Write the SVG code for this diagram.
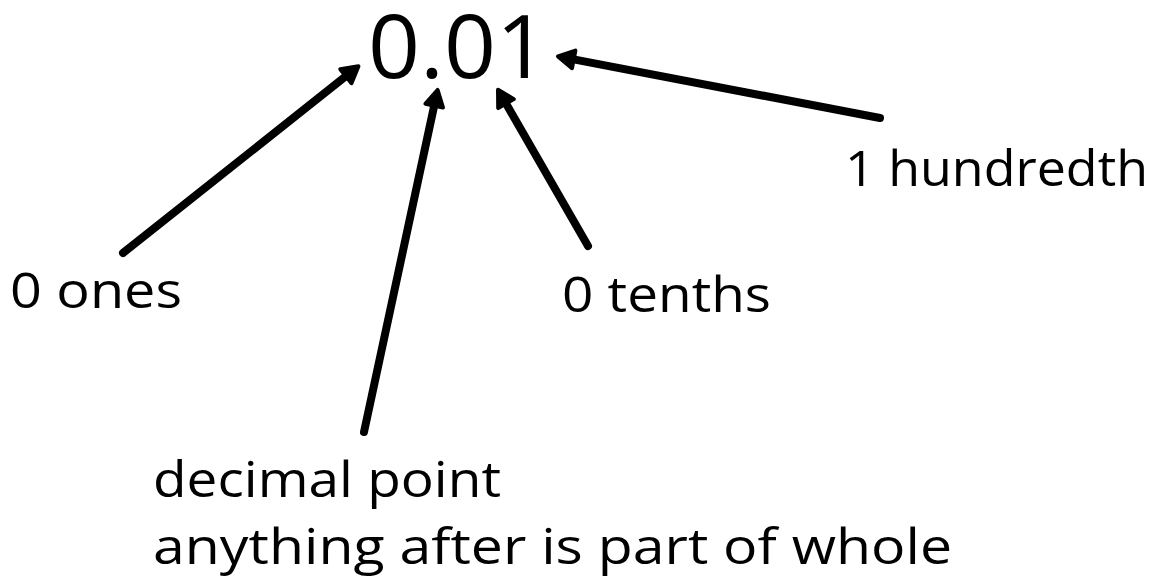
<svg xmlns="http://www.w3.org/2000/svg" width="1168" height="587" viewBox="0 0 1168 587">
<style>
.lbl{font-family:"Open Sans","Noto Sans","Liberation Sans",sans-serif;font-size:50px;fill:#000}
.num{font-family:"Open Sans","Noto Sans","Liberation Sans",sans-serif;font-size:88px;fill:#000}
.arr{stroke:#000;stroke-width:8;stroke-linecap:round;fill:none;marker-end:url(#ah)}
</style>
<defs>
<marker id="ah" markerUnits="userSpaceOnUse" viewBox="-6 -16 32 32" markerWidth="32" markerHeight="32" refX="0" refY="0" orient="auto">
<path d="M0,-9 L16,0 L0,9 Z" fill="#000" stroke="#000" stroke-width="4" stroke-linejoin="round"/>
</marker>
</defs>
<rect width="1168" height="587" fill="#fff"/>
<g id="number"><text class="num" x="368" y="78" textLength="180" lengthAdjust="spacingAndGlyphs">0.01</text></g>
<g id="ones"><text class="lbl" x="10" y="308" textLength="172" lengthAdjust="spacingAndGlyphs">0 ones</text></g>
<g id="tenths"><text class="lbl" x="562" y="312" textLength="209" lengthAdjust="spacingAndGlyphs">0 tenths</text></g>
<g id="hundredth"><text class="lbl" x="845" y="186" textLength="303" lengthAdjust="spacingAndGlyphs">1 hundredth</text></g>
<g id="point"><text class="lbl" x="153" y="497" textLength="348" lengthAdjust="spacingAndGlyphs">decimal point</text><text class="lbl" x="153" y="564" textLength="799" lengthAdjust="spacingAndGlyphs">anything after is part of whole</text></g>
<g id="connectors">
<line class="arr" x1="123" y1="253" x2="345.9" y2="76.2"/>
<line class="arr" x1="364" y1="432" x2="434.2" y2="105.6"/>
<line class="arr" x1="588" y1="246" x2="506.0" y2="103.6"/>
<line class="arr" x1="880" y1="118" x2="573.7" y2="59.4"/>
</g>
</svg>
